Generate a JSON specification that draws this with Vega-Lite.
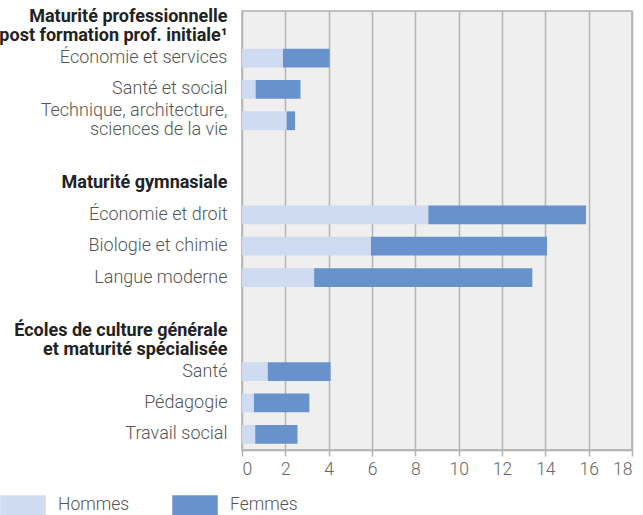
{
  "$schema": "https://vega.github.io/schema/vega-lite/v6.json",
  "width": 390,
  "height": 439,
  "autosize": {"type": "none"},
  "padding": {"left": 242, "top": 11, "right": 11, "bottom": 65},
  "background": "white",
  "config": {
    "font": "Roboto",
    "view": {"fill": "#efefef", "stroke": "#b0b0b0", "strokeWidth": 1.5}
  },
  "data": {
    "values": [
      {"cat": "Économie et services", "sexe": "Hommes", "val": 1.89},
      {"cat": "Économie et services", "sexe": "Femmes", "val": 2.15},
      {"cat": "Santé et social", "sexe": "Hommes", "val": 0.63},
      {"cat": "Santé et social", "sexe": "Femmes", "val": 2.07},
      {"cat": "Technique, architecture,|sciences de la vie", "sexe": "Hommes", "val": 2.06},
      {"cat": "Technique, architecture,|sciences de la vie", "sexe": "Femmes", "val": 0.39},
      {"cat": "Économie et droit", "sexe": "Hommes", "val": 8.6},
      {"cat": "Économie et droit", "sexe": "Femmes", "val": 7.28},
      {"cat": "Biologie et chimie", "sexe": "Hommes", "val": 5.95},
      {"cat": "Biologie et chimie", "sexe": "Femmes", "val": 8.13},
      {"cat": "Langue moderne", "sexe": "Hommes", "val": 3.33},
      {"cat": "Langue moderne", "sexe": "Femmes", "val": 10.07},
      {"cat": "Santé", "sexe": "Hommes", "val": 1.19},
      {"cat": "Santé", "sexe": "Femmes", "val": 2.9},
      {"cat": "Pédagogie", "sexe": "Hommes", "val": 0.55},
      {"cat": "Pédagogie", "sexe": "Femmes", "val": 2.56},
      {"cat": "Travail social", "sexe": "Hommes", "val": 0.61},
      {"cat": "Travail social", "sexe": "Femmes", "val": 1.95}
    ]
  },
  "mark": {"type": "bar"},
  "encoding": {
    "y": {
      "field": "cat",
      "type": "nominal",
      "scale": {
        "domain": [
          "Maturité professionnelle|post formation prof. initiale¹",
          "Économie et services",
          "Santé et social",
          "Technique, architecture,|sciences de la vie",
          " ",
          "Maturité gymnasiale",
          "Économie et droit",
          "Biologie et chimie",
          "Langue moderne",
          "  ",
          "Écoles de culture générale|et maturité spécialisée",
          "Santé",
          "Pédagogie",
          "Travail social"
        ],
        "paddingInner": 0.4,
        "paddingOuter": 0.2
      },
      "axis": {
        "title": null,
        "ticks": false,
        "domain": false,
        "labelPadding": 15,
        "labelLimit": 400,
        "labelFontSize": 18,
        "labelLineHeight": 19,
        "labelExpr": "split(datum.label, '|')",
        "labelOffset": {"condition": {"test": "indexof(datum.value, '|') >= 0", "value": -9.5}, "value": 0},
        "labelFontWeight": {"condition": {"test": "indexof(datum.value, 'Maturité') == 0 || indexof(datum.value, 'Écoles') == 0", "value": "bold"}, "value": 300},
        "labelColor": {"condition": {"test": "indexof(datum.value, 'Maturité') == 0 || indexof(datum.value, 'Écoles') == 0", "value": "#222222"}, "value": "#555555"}
      }
    },
    "x": {
      "field": "val",
      "type": "quantitative",
      "stack": "zero",
      "scale": {"domain": [0, 18], "nice": false},
      "axis": {
        "title": null,
        "values": [0, 2, 4, 6, 8, 10, 12, 14, 16, 18],
        "grid": true,
        "gridColor": "#b5b5b5",
        "gridWidth": 1.5,
        "tickColor": "#b0b0b0",
        "tickWidth": 1.5,
        "tickSize": 6,
        "domainColor": "#b0b0b0",
        "domainWidth": 1.5,
        "labelFontSize": 17.5,
        "labelFontWeight": 300,
        "labelColor": "#666666",
        "labelPadding": 4
      }
    },
    "color": {
      "field": "sexe",
      "type": "nominal",
      "scale": {"domain": ["Hommes", "Femmes"], "range": ["#cfdbf1", "#6892cc"]},
      "legend": {
        "title": null,
        "orient": "none",
        "direction": "horizontal",
        "columns": 2,
        "legendX": -242,
        "legendY": 471,
        "padding": 0,
        "columnPadding": 42,
        "symbolType": "M-1,-0.45H1V0.45H-1Z",
        "symbolSize": 2070,
        "symbolStrokeWidth": 0,
        "symbolOpacity": 1,
        "labelOffset": 12,
        "labelFontSize": 17.5,
        "labelFontWeight": 300,
        "labelColor": "#555555"
      }
    },
    "order": {"field": "sexe", "sort": "descending"}
  }
}
